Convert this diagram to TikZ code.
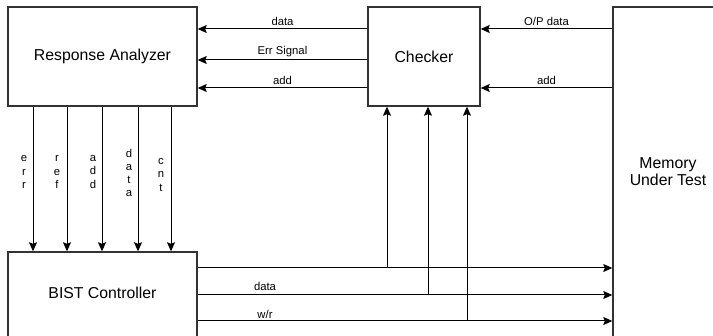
\documentclass[tikz,border=0pt]{standalone}
\usepackage{fontspec}
\setmainfont{Liberation Sans}
\usetikzlibrary{arrows.meta}
\tikzset{
  blk/.style={draw=black!80, line width=1.4pt, rectangle, inner sep=0pt, font=\fontsize{15.8}{18}\selectfont},
  arr/.style={line width=1pt, -{Stealth[length=9pt,width=8pt,inset=1.5pt]}},
  lbl/.style={font=\fontsize{11.3}{13.3}\selectfont, inner sep=0pt},
  vlbl/.style={font=\fontsize{11.3}{13.3}\selectfont, inner sep=0pt, align=center},
  big/.style={font=\fontsize{15.8}{17}\selectfont, inner sep=0pt, align=center}
}
\begin{document}
\begin{tikzpicture}[x=1pt,y=-1pt]
\useasboundingbox (0,0) rectangle (713,336);
\clip (0,0) rectangle (713,336);
% blocks
\node[blk, minimum width=189pt, minimum height=99pt] (ra) at (102.5,56.5) {Response Analyzer};
\node[blk, minimum width=112pt, minimum height=99pt] (ck) at (424,56.5) {Checker};
\node[blk, minimum width=110pt, minimum height=330pt] (mem) at (668,172) {};
\node[big] (memt) at (668,172) {Memory\\Under Test};
\node[blk, minimum width=189pt, minimum height=86pt] (bist) at (102.5,295) {};
\node[big] (bistt) at (102.5,293) {BIST Controller};
% checker -> RA
\draw[arr] (ck.west |- 0,29) -- (ra.east |- 0,29) node[lbl, midway, above=3pt] (l1) {data};
\draw[arr] (ck.west |- 0,60) -- (ra.east |- 0,60) node[lbl, midway, above=3pt] (l2) {Err Signal};
\draw[arr] (ck.west |- 0,88) -- (ra.east |- 0,88) node[lbl, midway, above=3pt] (l3) {add};
% memory -> checker
\draw[arr] (mem.west |- 0,29) -- (ck.east |- 0,29) node[lbl, midway, above=3pt] (l4) {O/P data};
\draw[arr] (mem.west |- 0,88) -- (ck.east |- 0,88) node[lbl, midway, above=3pt] (l5) {add};
% RA -> BIST
\draw[arr] (ra.south -| 33,0) -- (bist.north -| 33,0);
\draw[arr] (ra.south -| 67,0) -- (bist.north -| 67,0);
\draw[arr] (ra.south -| 102,0) -- (bist.north -| 102,0);
\draw[arr] (ra.south -| 138,0) -- (bist.north -| 138,0);
\draw[arr] (ra.south -| 171,0) -- (bist.north -| 171,0);
\node[vlbl] (v1) at (24,172) {e\\r\\r};
\node[vlbl] (v2) at (57,172) {r\\e\\f};
\node[vlbl] (v3) at (93,172) {a\\d\\d};
\node[vlbl] (v4) at (129,173) {d\\a\\t\\a};
\node[vlbl] (v5) at (161,175) {c\\n\\t};
% BIST -> memory
\coordinate (j1) at (387,268);
\coordinate (j2) at (428,295);
\coordinate (j3) at (467,321);
\draw[arr] (bist.east |- j1) -- (mem.west |- j1);
\draw[arr] (bist.east |- j2) -- (mem.west |- j2);
\draw[arr] (bist.east |- j3) -- (mem.west |- j3);
\node[lbl] (l6) at (265,286) {data};
\node[lbl] (l7) at (265,314) {w/r};
% junctions up to checker
\draw[arr] (j1) -- (ck.south -| j1);
\draw[arr] (j2) -- (ck.south -| j2);
\draw[arr] (j3) -- (ck.south -| j3);
\end{tikzpicture}
\end{document}
